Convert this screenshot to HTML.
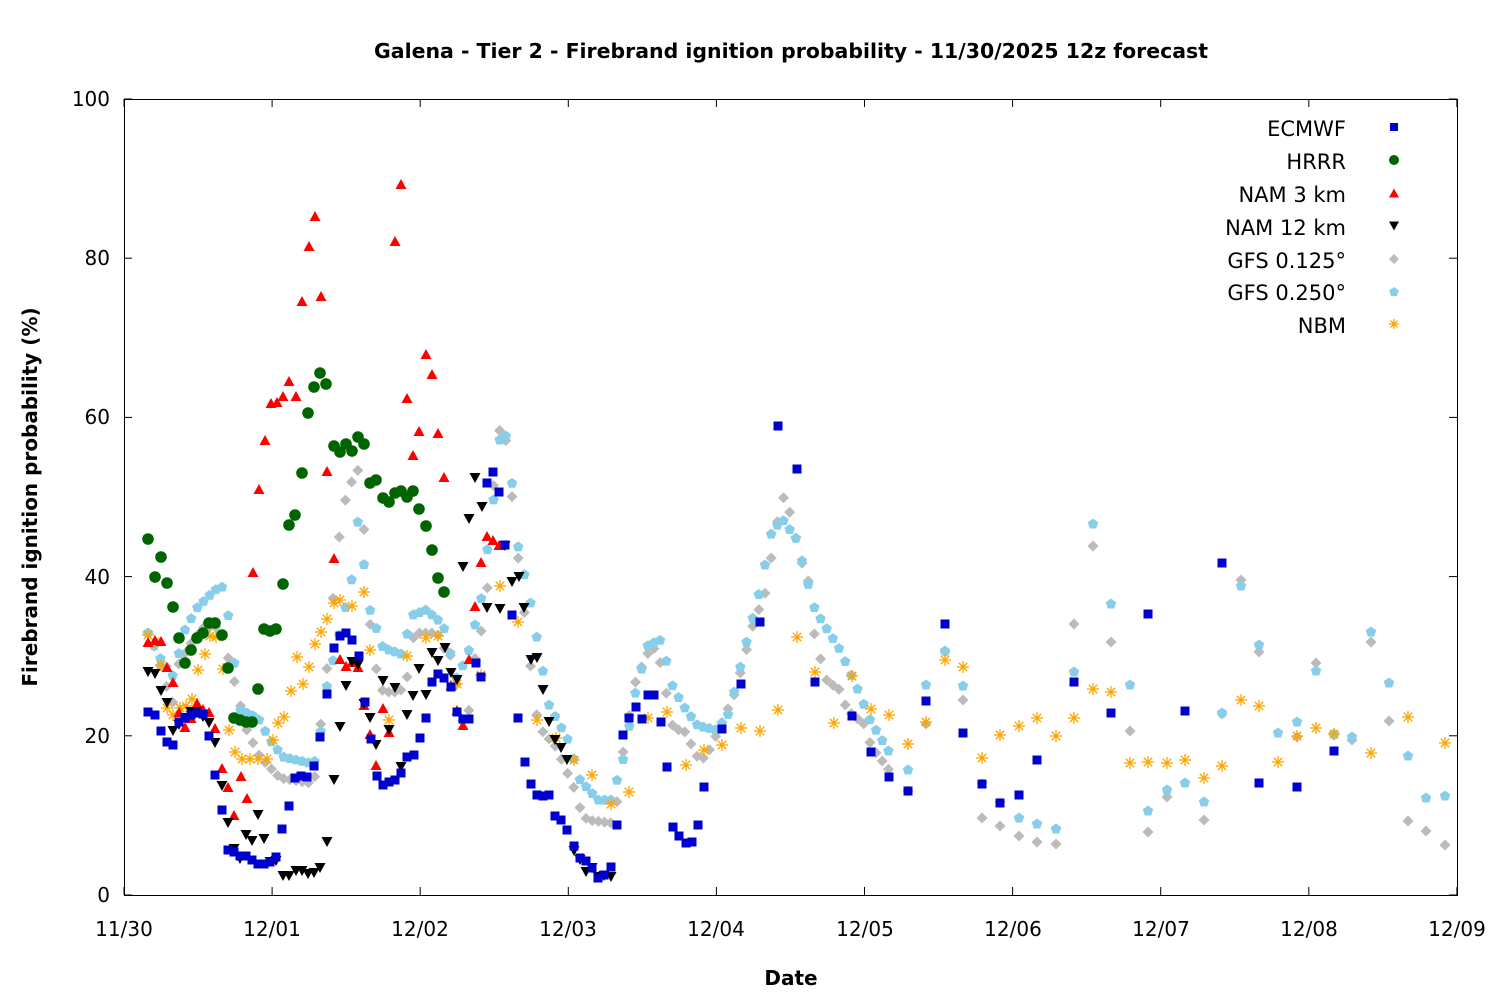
<!DOCTYPE html><html><head><meta charset="utf-8"><style>
body{margin:0;background:#fff}svg{display:block}
text{font-family:"DejaVu Sans","Liberation Sans",sans-serif;fill:#000}
</style></head><body>
<svg id="s" width="1500" height="1000" xmlns="http://www.w3.org/2000/svg">
<rect width="1500" height="1000" fill="#fff"/>
<text x="791" y="58" text-anchor="middle" font-size="20" font-weight="bold" textLength="834" lengthAdjust="spacingAndGlyphs">Galena - Tier 2 - Firebrand ignition probability - 11/30/2025 12z forecast</text>
<text x="791" y="985" text-anchor="middle" font-size="20" font-weight="bold">Date</text>
<text transform="translate(37,497) rotate(-90)" text-anchor="middle" font-size="20" font-weight="bold">Firebrand ignition probability (%)</text>
<g font-size="20" text-anchor="end">
<text x="110" y="902">0</text><text x="110" y="743">20</text><text x="110" y="584">40</text><text x="110" y="424">60</text><text x="110" y="265">80</text><text x="110" y="106">100</text>
</g>
<g font-size="20" text-anchor="middle">
<text x="124" y="936">11/30</text><text x="272" y="936">12/01</text><text x="420" y="936">12/02</text><text x="568" y="936">12/03</text><text x="716" y="936">12/04</text><text x="865" y="936">12/05</text><text x="1013" y="936">12/06</text><text x="1161" y="936">12/07</text><text x="1309" y="936">12/08</text><text x="1457" y="936">12/09</text>
</g>
<g font-size="21" text-anchor="end">
<text x="1346" y="136">ECMWF</text><text x="1346" y="169">HRRR</text><text x="1346" y="202">NAM 3 km</text><text x="1346" y="235">NAM 12 km</text><text x="1346" y="268">GFS 0.125°</text><text x="1346" y="300">GFS 0.250°</text><text x="1346" y="333">NBM</text>
</g>
<g id="ax" stroke="#000" stroke-width="1" fill="none"></g>
<g id="pts"></g>
</svg>
<script>
var NS="http://www.w3.org/2000/svg",P=document.getElementById('pts'),AX=document.getElementById('ax');
function el(t,a,p){var e=document.createElementNS(NS,t);for(var k in a)e.setAttribute(k,a[k]);(p||P).appendChild(e);return e;}
el('rect',{x:124.5,y:99.5,width:1333,height:796},AX);
for(var i=0;i<=5;i++){var y=895-i*159.2;el('line',{x1:124,x2:132,y1:y,y2:y},AX);el('line',{x1:1449,x2:1457,y1:y,y2:y},AX);}
for(var i=0;i<=9;i++){var x=124+i*148.1;el('line',{x1:x,x2:x,y1:895,y2:887},AX);el('line',{x1:x,x2:x,y1:99,y2:107},AX);}
function sq(x,y,s,c){el('rect',{x:x-s/2,y:y-s/2,width:s,height:s,fill:c});}
function ci(x,y,r,c){el('circle',{cx:x,cy:y,r:r,fill:c});}
function tri(x,y,s,c,inv){var h=s*0.9,d=inv?-1:1;el('polygon',{points:(x-s/2)+','+(y+d*h/2)+' '+(x+s/2)+','+(y+d*h/2)+' '+x+','+(y-d*h/2),fill:c});}
function dia(x,y,s,c){el('polygon',{points:x+','+(y-s)+' '+(x+s)+','+y+' '+x+','+(y+s)+' '+(x-s)+','+y,fill:c});}
function pent(x,y,r,c){var p=[];for(var k=0;k<5;k++){var a=-Math.PI/2+k*2*Math.PI/5;p.push((x+r*Math.cos(a))+','+(y+r*Math.sin(a)));}el('polygon',{points:p.join(' '),fill:c});}
function ast(x,y,r,c){for(var k=0;k<4;k++){var a=k*Math.PI/4;el('line',{x1:x-r*Math.cos(a),y1:y-r*Math.sin(a),x2:x+r*Math.cos(a),y2:y+r*Math.sin(a),stroke:c,'stroke-width':1.3});}}
function L(s){return s.split(' ').map(function(p){return p.split(',').map(Number)});}
function interp(keys,step){var out=[];for(var x=keys[0][0];x<=keys[keys.length-1][0]+0.01;x+=step){for(var j=0;j<keys.length-1;j++){if(x>=keys[j][0]&&x<=keys[j+1][0]){var t=(x-keys[j][0])/(keys[j+1][0]-keys[j][0]);out.push([x,keys[j][1]+t*(keys[j+1][1]-keys[j][1])]);break;}}}return out;}

var gfs1=interp(L("148,633 155,648 167,688 173,703 179,663 192,642 204,627 217,627 223,638 235,684 247,731 260,757 280,778 310,783 315,776 327,668 334,588 340,530 346,497 352,481 358,470 364,530 371,638 377,673 383,692 400,692 408,675 414,633 437,633 445,650 452,657 457,687 463,723 469,710 476,650 482,628 488,583 494,477 500,428 507,443 513,507 519,566 531,670 537,717 543,732 556,747 574,788 580,808 587,820 612,823 618,797 624,744 636,679 648,653 656,647 661,666 673,728 685,732 698,758 704,758 710,749 735,693 753,625 767,588 772,552 778,518 784,496 791,516 797,543 803,567 809,583 815,640 827,681 840,690 847,710 864,724 871,746 889,770"),6.17)
 .concat(L("908,791 926,724 945,652 963,700 982,818 1000,826 1019,836 1037,842 1056,844 1074,624 1093,546 1111,642 1130,731 1148,832 1167,797 1204,820 1222,714 1241,580 1259,652 1297,737 1316,663 1334,735 1352,740 1371,642 1389,721 1408,821 1426,831 1445,845"));
gfs1.forEach(function(p){dia(p[0],p[1],5.5,'#bbbbbb');});
var gfs2=interp(L("148,633 161,660 173,676 185,630 197,608 215,590 222,587 228,614 234,660 240,710 258,718 270,740 283,757 314,764 320,737 327,686 340,632 352,578 358,520 364,565 370,610 383,648 401,654 413,615 426,610 438,620 444,628 457,680 469,650 481,600 493,505 500,437 506,436 512,483 518,546 530,600 549,705 568,740 580,780 598,800 611,800 623,760 636,690 648,645 661,640 673,688 686,710 698,726 717,730 729,713 747,640 760,590 772,530 783,520 797,540 803,565 815,610 840,650 858,690 870,720 889,752"),6.17)
 .concat(L("908,770 926,685 945,651 963,686 982,784 1000,803 1019,818 1037,824 1056,829 1074,672 1093,524 1111,604 1130,685 1148,811 1167,790 1185,783 1204,802 1222,713 1241,586 1259,645 1278,733 1297,722 1316,671 1334,734 1352,737 1371,632 1389,683 1408,756 1426,798 1445,796"));
gfs2.forEach(function(p){pent(p[0],p[1],5.5,'#87ceeb');});
L("148,635 155,642 161,665 167,708 173,715 180,708 186,706 192,699 198,670 205,654 210,636 216,637 223,669 229,730 235,752 242,759 250,759 258,759 267,759 273,740 278,723 284,717 291,691 297,657 303,684 309,667 315,644 321,632 327,619 334,603 340,600 352,606 364,592 370,650 389,720 407,656 426,638 438,636 457,684 481,675 500,586 518,622 537,720 556,738 574,760 592,775 611,804 629,792 648,718 667,712 686,765 704,750 722,745 741,728 760,731 778,710 797,637 815,672 834,723 852,676 871,709 889,715 908,744 926,722 945,660 963,667 982,758 1000,735 1019,726 1037,718 1056,736 1074,718 1093,689 1111,692 1130,763 1148,762 1167,763 1185,760 1204,778 1222,766 1241,700 1259,706 1278,762 1297,736 1316,728 1334,734 1371,753 1408,717 1445,743").forEach(function(p){ast(p[0],p[1],6,'#ffa500');});
L("148,539 155,577 161,557 167,583 173,607 179,638 185,663 191,650 197,638 203,633 209,623 215,623 222,635 228,668 234,718 240,720 246,722 252,722 258,689 264,629 270,631 276,629 283,584 289,525 295,515 302,473 308,413 314,387 320,373 326,384 334,446 340,452 346,444 352,451 358,437 364,444 370,483 376,480 383,498 389,502 395,493 401,491 407,497 413,491 419,509 426,526 432,550 438,578 444,592").forEach(function(p){ci(p[0],p[1],5.8,'#006400');});
L("148,642 155,640 161,641 167,667 173,682 179,712 185,727 191,718 197,703 203,709 209,712 215,728 222,768 228,787 234,815 241,776 247,798 253,572 259,489 265,440 271,403 277,402 283,396 289,381 296,396 302,301 309,246 315,216 321,296 327,471 334,558 340,659 346,666 352,662 358,667 364,705 370,734 376,765 383,708 389,732 395,241 401,184 407,398 413,455 419,431 426,354 432,374 438,433 444,477 451,685 457,710 463,725 469,659 475,606 481,562 487,536 493,540 499,545").forEach(function(p){tri(p[0],p[1],11,'#ff0000');});
L("148,672 155,674 161,691 167,703 173,731 179,725 185,718 191,712 197,712 203,717 209,723 215,743 222,786 228,823 234,849 240,859 246,835 252,841 258,815 264,839 270,862 276,861 283,876 289,876 296,871 302,871 308,874 314,873 320,868 327,842 334,780 340,727 346,686 352,662 358,665 364,704 370,718 376,745 383,681 389,730 395,688 401,767 407,715 413,696 419,669 426,695 432,653 438,661 445,648 451,673 457,680 463,567 469,519 475,478 482,507 487,608 500,609 505,546 512,582 519,577 524,608 531,660 537,658 543,690 549,722 555,740 561,748 567,760 574,851 580,860 586,872 592,868 598,877 604,876 611,877").forEach(function(p){tri(p[0],p[1],11,'#000',true);});
L("148,712 155,715 161,731 167,742 173,745 179,722 185,718 191,715 197,713 203,714 209,736 215,775 222,810 228,850 234,852 240,856 246,856 252,860 258,864 264,864 270,862 276,857 282,829 289,806 295,778 301,776 307,777 314,766 320,737 327,694 334,648 340,636 346,633 352,640 359,656 365,702 371,739 377,776 383,785 389,782 395,780 401,773 407,757 414,755 420,738 426,718 432,682 438,674 444,678 451,687 457,712 463,719 469,719 476,663 481,677 487,483 493,472 499,492 505,545 512,615 518,718 525,762 531,784 537,795 543,796 549,795 555,816 561,820 567,830 574,846 580,858 586,861 592,868 598,878 604,875 611,867 617,825 623,735 629,718 636,707 642,719 648,695 654,695 661,722 667,767 673,827 679,836 686,843 692,842 698,825 704,787 722,729 741,684 760,622 778,426 797,469 815,682 852,716 871,752 889,777 908,791 926,701 945,624 963,733 982,784 1000,803 1019,795 1037,760 1074,682 1111,713 1148,614 1185,711 1222,563 1259,783 1297,787 1334,751").forEach(function(p){sq(p[0],p[1],9,'#0000cc');});
sq(1394,127,8,'#0000cc');ci(1394,160,5,'#006400');tri(1394,193,10,'#ff0000');tri(1394,226,10,'#000',true);dia(1394,259,5,'#bbbbbb');pent(1394,292,5,'#87ceeb');ast(1394,324,5,'#ffa500');
</script>
</body></html>
